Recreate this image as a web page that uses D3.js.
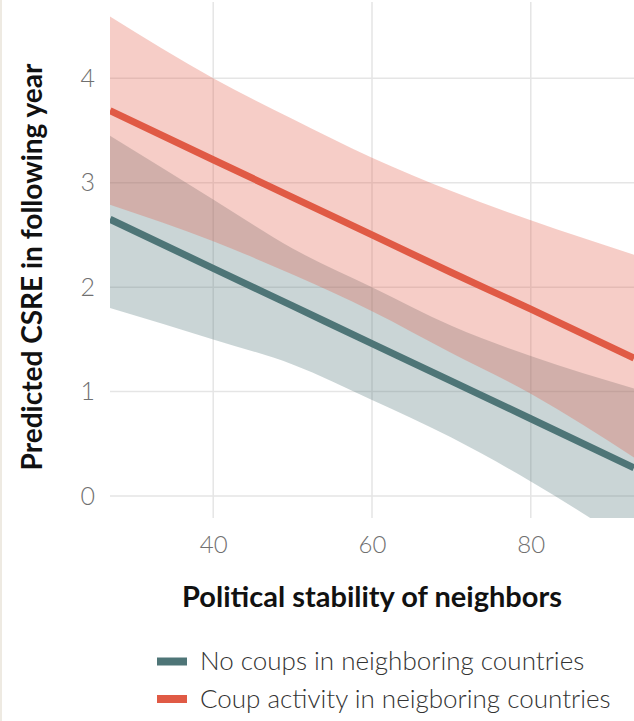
<!DOCTYPE html>
<html>
<head>
<meta charset="utf-8">
<script src="https://cdn.jsdelivr.net/npm/d3@7"></script>
<style>
  html, body { margin: 0; padding: 0; background: #ffffff; }
  svg { display: block; }
  text { font-family: Lato, "Open Sans", sans-serif; }
</style>
</head>
<body>
<svg id="chart" width="634" height="721"></svg>
<script>
// ---- data ----
const xValues      = [27, 40, 50, 60, 70, 80, 93];
const noCoupFit    = [2.65, 2.18, 1.82, 1.46, 1.10, 0.74, 0.27];
const noCoupUpper  = [3.45, 2.84, 2.37, 2.00, 1.63, 1.34, 1.03];
const noCoupLower  = [1.80, 1.50, 1.26, 0.92, 0.56, 0.14, -0.48];
const coupFit      = [3.69, 3.22, 2.86, 2.50, 2.14, 1.79, 1.32];
const coupUpper    = [4.59, 4.00, 3.61, 3.24, 2.92, 2.64, 2.31];
const coupLower    = [2.79, 2.44, 2.12, 1.77, 1.37, 0.98, 0.37];
const xTicks = [40, 60, 80];
const yTicks = [0, 1, 2, 3, 4];
const seriesNames = ["No coups in neighboring countries", "Coup activity in neigboring countries"];
const xTitle = "Political stability of neighbors";
const yTitle = "Predicted CSRE in following year";

const colors = { noCoup: "#4e7577", coup: "#e05a45" };

const svg = d3.select("#chart");
const W = 634, H = 721;
const panel = { left: 110, right: 634, top: 2, bottom: 518 };

// left beige strip
svg.append("rect").attr("x", 0).attr("y", 0).attr("width", 2).attr("height", H).attr("fill", "#eeeae2");

const x = d3.scaleLinear().domain([27, 93]).range([panel.left, panel.right]);
const y = d3.scaleLinear().domain([-0.21, 4.73]).range([panel.bottom, panel.top]);

// gridlines
const grid = svg.append("g");
grid.selectAll("line.v").data(xTicks).join("line")
  .attr("x1", d => x(d)).attr("x2", d => x(d))
  .attr("y1", panel.top).attr("y2", panel.bottom)
  .attr("stroke", "#e5e5e5").attr("stroke-width", 1.5);
grid.selectAll("line.h").data(yTicks).join("line")
  .attr("x1", panel.left).attr("x2", panel.right)
  .attr("y1", d => y(d)).attr("y2", d => y(d))
  .attr("stroke", "#e5e5e5").attr("stroke-width", 1.5);

// clip
svg.append("clipPath").attr("id", "clip").append("rect")
  .attr("x", panel.left).attr("y", panel.top)
  .attr("width", panel.right - panel.left).attr("height", panel.bottom - panel.top);

const plot = svg.append("g").attr("clip-path", "url(#clip)");

const noCoup = xValues.map((v, i) => ({ x: v, fit: noCoupFit[i], lo: noCoupLower[i], hi: noCoupUpper[i] }));
const coup = xValues.map((v, i) => ({ x: v, fit: coupFit[i], lo: coupLower[i], hi: coupUpper[i] }));

const area = d3.area().curve(d3.curveMonotoneX)
  .x(d => x(d.x)).y0(d => y(d.lo)).y1(d => y(d.hi));
const line = d3.line().curve(d3.curveMonotoneX)
  .x(d => x(d.x)).y(d => y(d.fit));

plot.append("path").datum(noCoup).attr("d", area).attr("fill", colors.noCoup).attr("fill-opacity", 0.3);
plot.append("path").datum(coup).attr("d", area).attr("fill", colors.coup).attr("fill-opacity", 0.3);
plot.append("path").datum(noCoup).attr("d", line).attr("fill", "none").attr("stroke", colors.noCoup).attr("stroke-width", 7);
plot.append("path").datum(coup).attr("d", line).attr("fill", "none").attr("stroke", colors.coup).attr("stroke-width", 7);

// axes (tick labels only)
const yAxis = d3.axisLeft(y).tickValues(yTicks).tickSize(0).tickPadding(0).tickFormat(d3.format("d"));
const yg = svg.append("g").attr("transform", `translate(${panel.left - 15},0)`).call(yAxis);
yg.select(".domain").remove();
yg.selectAll("text").attr("font-family", "Lato, sans-serif").attr("font-size", 25).attr("font-weight", 300).attr("fill", "#707070");

const xAxis = d3.axisBottom(x).tickValues(xTicks).tickSize(0).tickPadding(0).tickFormat(d3.format("d"));
const xg = svg.append("g").attr("transform", `translate(0,${panel.bottom + 18})`).call(xAxis);
xg.select(".domain").remove();
xg.selectAll("text").attr("font-family", "Lato, sans-serif").attr("font-size", 24).attr("font-weight", 300).attr("fill", "#707070");

// axis titles
svg.append("text").attr("x", 372).attr("y", 607).attr("text-anchor", "middle")
  .attr("font-size", 29).attr("font-weight", 700).attr("fill", "#111").text(xTitle);
svg.append("text").attr("transform", "translate(42,267) rotate(-90)").attr("text-anchor", "middle")
  .attr("font-size", 28).attr("font-weight", 700).attr("fill", "#111").text(yTitle);

// legend
const legend = svg.append("g");
const legendItems = [{ name: seriesNames[0], color: colors.noCoup }, { name: seriesNames[1], color: colors.coup }];
legendItems.forEach((d, i) => {
  const cy = 661.5 + i * 37.5;
  legend.append("line").attr("x1", 157).attr("x2", 187).attr("y1", cy).attr("y2", cy)
    .attr("stroke", d.color).attr("stroke-width", 8);
  legend.append("text").attr("x", 200).attr("y", cy + 8.5).attr("font-size", 26).attr("font-weight", 300)
    .attr("fill", "#333").text(d.name);
});
</script>
</body>
</html>
